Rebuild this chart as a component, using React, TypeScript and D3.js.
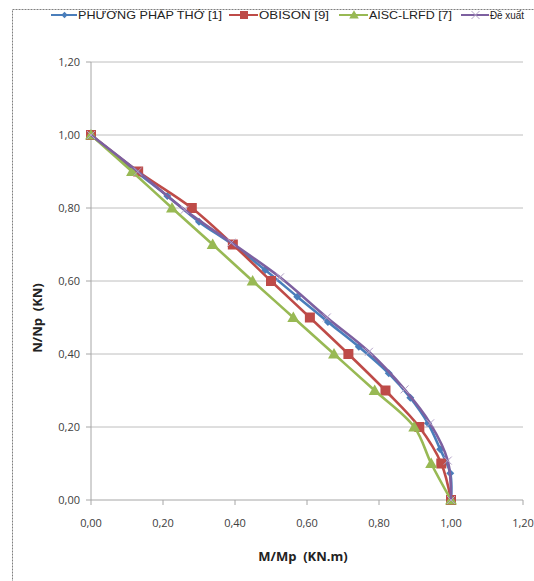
import React from "react";
import * as d3 from "d3";

const xTicks = [0, 0.2, 0.4, 0.6, 0.8, 1.0, 1.2];
const yTicks = [0, 0.2, 0.4, 0.6, 0.8, 1.0, 1.2];

const thoX = [0, 0.125, 0.212, 0.30, 0.393, 0.484, 0.573, 0.658, 0.744, 0.827, 0.887, 0.936, 0.970, 0.998, 1.0];
const thoY = [1.0, 0.9, 0.833, 0.762, 0.70, 0.63, 0.557, 0.488, 0.42, 0.347, 0.28, 0.21, 0.139, 0.073, 0];

const obisonX = [0, 0.131, 0.28, 0.394, 0.50, 0.608, 0.715, 0.818, 0.912, 0.973, 1.0];
const obisonY = [1.0, 0.9, 0.8, 0.7, 0.6, 0.5, 0.4, 0.3, 0.2, 0.1, 0];

const aiscX = [0, 0.114, 0.225, 0.338, 0.449, 0.562, 0.675, 0.788, 0.898, 0.945, 1.0];
const aiscY = [1.0, 0.9, 0.8, 0.7, 0.6, 0.5, 0.4, 0.3, 0.2, 0.1, 0];

const dexuatX = [0, 0.13, 0.26, 0.39, 0.525, 0.655, 0.772, 0.871, 0.942, 0.991, 1.0];
const dexuatY = [1.0, 0.9, 0.795, 0.705, 0.61, 0.5, 0.406, 0.303, 0.21, 0.108, 0];

const seriesNames = ["PHƯƠNG PHÁP THỚ [1]", "OBISON [9]", "AISC-LRFD [7]", "Đề xuất"];
const colors = ["#4A7EBB", "#BE4B48", "#98B954", "#7D60A0"];

const fmt = (v: number) => v.toFixed(2).replace(".", ",");

export default function App() {
  const W = 534, H = 581;
  const x = d3.scaleLinear().domain([0, 1.2]).range([91, 523]);
  const y = d3.scaleLinear().domain([0, 1.2]).range([500, 62]);
  const line = d3
    .line<[number, number]>()
    .x((d) => x(d[0]))
    .y((d) => y(d[1]))
    .curve(d3.curveCatmullRom.alpha(0.5));

  const series = [
    { xs: thoX, ys: thoY, marker: "diamond" },
    { xs: obisonX, ys: obisonY, marker: "square" },
    { xs: aiscX, ys: aiscY, marker: "triangle" },
    { xs: dexuatX, ys: dexuatY, marker: "x" },
  ];

  const marker = (type: string, cx: number, cy: number, color: string, key: string, small = false) => {
    const k = small ? 0.8 : 1;
    if (type === "diamond")
      return <path key={key} d={`M${cx},${cy - 4 * k}L${cx + 4 * k},${cy}L${cx},${cy + 4 * k}L${cx - 4 * k},${cy}Z`} fill={color} />;
    if (type === "square")
      return <rect key={key} x={cx - 5 * k} y={cy - 5 * k} width={10 * k} height={10 * k} fill={color} />;
    if (type === "triangle")
      return <path key={key} d={`M${cx},${cy - 6 * k}L${cx + 6 * k},${cy + 4.5 * k}L${cx - 6 * k},${cy + 4.5 * k}Z`} fill={color} />;
    return (
      <path key={key} d={`M${cx - 4},${cy - 4}L${cx + 4},${cy + 4}M${cx - 4},${cy + 4}L${cx + 4},${cy - 4}`} stroke="#B3A2C7" strokeWidth={1} />
    );
  };

  const legendItems = [
    { lx: 51, tx: 78, w: 144 },
    { lx: 229, tx: 259, w: 70 },
    { lx: 339, tx: 369, w: 83 },
    { lx: 461, tx: 490, w: 34 },
  ];

  return (
    <svg width={W} height={H} style={{ position: "absolute", left: 0, top: 0, background: "#fff" }}>
      <rect x={12.5} y={9.5} width={540} height={600} fill="#fff" stroke="#7f7f7f" strokeDasharray="2,1" />
      {yTicks.filter((t) => t > 0).map((t) => (
        <line key={"g" + t} x1={x(0)} x2={x(1.2)} y1={y(t)} y2={y(t)} stroke="#BEBEBE" strokeWidth={1} />
      ))}
      <line x1={x(0)} x2={x(0)} y1={y(1.2)} y2={y(0)} stroke="#A6A6A6" />
      <line x1={x(0)} x2={x(1.2)} y1={y(0)} y2={y(0)} stroke="#A6A6A6" />
      {yTicks.map((t) => (
        <g key={"y" + t}>
          <line x1={x(0) - 5} x2={x(0)} y1={y(t)} y2={y(t)} stroke="#A6A6A6" />
          <text x={80} y={y(t) + 4} textAnchor="end" fontSize={11} fill="#404040" fontFamily="'Open Sans', sans-serif">
            {fmt(t)}
          </text>
        </g>
      ))}
      {xTicks.map((t) => (
        <g key={"x" + t}>
          <line x1={x(t)} x2={x(t)} y1={y(0)} y2={y(0) + 5} stroke="#A6A6A6" />
          <text x={x(t)} y={527} textAnchor="middle" fontSize={11} fill="#404040" fontFamily="'Open Sans', sans-serif">
            {fmt(t)}
          </text>
        </g>
      ))}
      <text x={303} y={561} textAnchor="middle" fontSize={13} fontWeight="bold" fill="#222" fontFamily="'Open Sans', sans-serif" style={{ whiteSpace: "pre" }}>
        {"M/Mp  (KN.m)"}
      </text>
      <text transform="translate(42,318) rotate(-90)" textAnchor="middle" fontSize={13} fontWeight="bold" fill="#222" fontFamily="'Open Sans', sans-serif" style={{ whiteSpace: "pre" }}>
        {"N/Np  (KN)"}
      </text>
      {series.map((s, i) => {
        const pts = s.xs.map((v, j) => [v, s.ys[j]] as [number, number]);
        return (
          <g key={"s" + i}>
            <path d={line(pts) || ""} fill="none" stroke={colors[i]} strokeWidth={2.6} />
            {pts.map((p, j) => marker(s.marker, x(p[0]), y(p[1]), colors[i], i + "-" + j))}
          </g>
        );
      })}
      {legendItems.map((it, i) => (
        <g key={"l" + i}>
          <line x1={it.lx} x2={it.tx - 1} y1={15} y2={15} stroke={colors[i]} strokeWidth={2} />
          {marker(series[i].marker, (it.lx + it.tx) / 2, 15, colors[i], "lm" + i, true)}
          <text x={it.tx} y={19} fontSize={11} fill="#222" fontFamily="'Liberation Sans', Arial, sans-serif" textLength={it.w} lengthAdjust="spacingAndGlyphs">
            {seriesNames[i]}
          </text>
        </g>
      ))}
    </svg>
  );
}
